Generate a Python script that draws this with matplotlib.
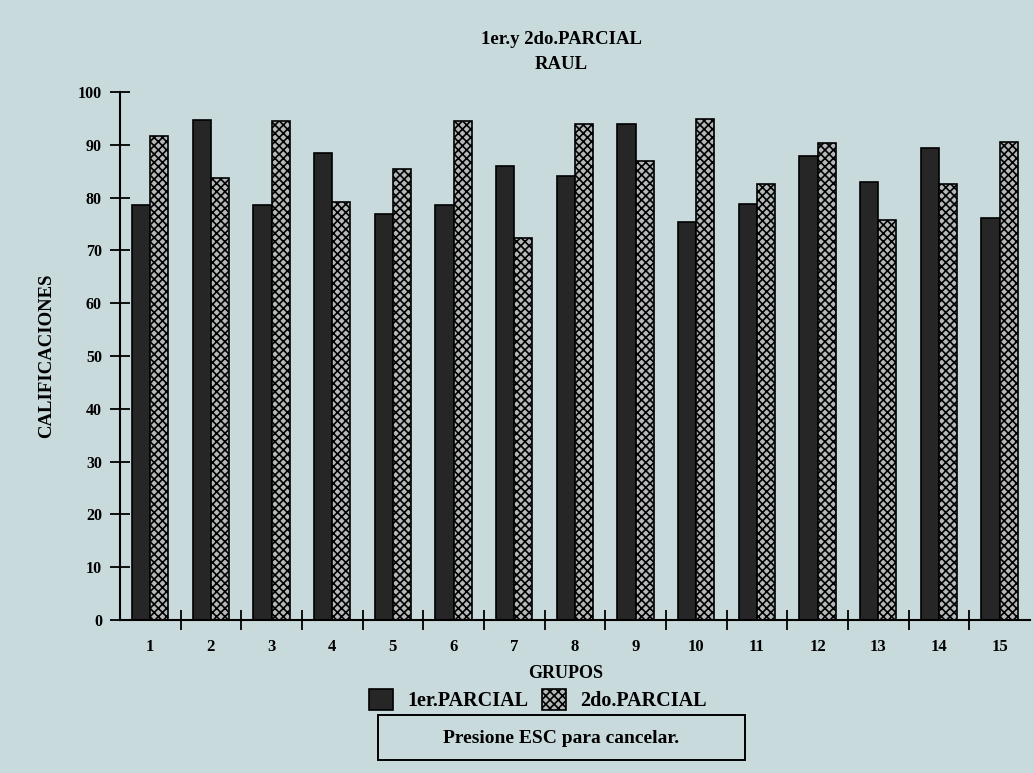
import matplotlib.pyplot as plt
from matplotlib.patches import Rectangle
import numpy as np

# datos
grupos = [str(i) for i in range(1, 16)]
parcial1 = [78.5, 94.6, 78.5, 88.4, 76.8, 78.5, 86.0, 84.1, 94.0, 75.3, 78.8, 87.9, 83.0, 89.3, 76.1]
parcial2 = [91.7, 83.7, 94.5, 79.2, 85.4, 94.5, 72.4, 94.0, 86.9, 94.8, 82.6, 90.4, 75.8, 82.6, 90.6]
yticks = list(range(0, 101, 10))

fondo = '#c9dadd'
plt.rcParams['font.family'] = 'Liberation Serif'
plt.rcParams['font.weight'] = 'bold'
plt.rcParams['axes.labelweight'] = 'bold'
plt.rcParams['hatch.linewidth'] = 1.2

fig = plt.figure(figsize=(10.34, 7.73), dpi=100, facecolor=fondo)
ax = fig.add_axes([0.116, 0.198, 0.88, 0.683], facecolor=fondo)

x = np.arange(1, 16)
w = 0.3
b1 = ax.bar(x - w / 2, parcial1, w, color='#262626', edgecolor='black', linewidth=1.2)
b2 = ax.bar(x + w / 2, parcial2, w, color='#b4b8b8', edgecolor='black', linewidth=1.2,
            hatch='xxxx')

ax.set_xlim(0.5, 15.5)
ax.set_ylim(0, 100)
ax.set_yticks(yticks)
ax.set_xticks(np.arange(1.5, 15.5, 1))
ax.set_xticklabels([])
ax.set_xticks(x, minor=True)
ax.set_xticklabels(grupos, minor=True)
ax.tick_params(axis='x', which='minor', length=0, pad=14, labelsize=12)
ax.tick_params(axis='x', which='major', direction='inout', length=14, width=1.3)
ax.tick_params(axis='y', direction='inout', length=14, width=1.3, labelsize=11.5, pad=6)
for s in ['top', 'right']:
    ax.spines[s].set_visible(False)
for s in ['left', 'bottom']:
    ax.spines[s].set_linewidth(1.5)

ax.set_ylabel('CALIFICACIONES', fontsize=13.5, labelpad=16)
ax.set_xlabel('GRUPOS', fontsize=13)
ax.xaxis.set_label_coords(0.49, -0.085)

fig.text(0.543, 0.943, '1er.y 2do.PARCIAL', ha='center', fontsize=13.5)
fig.text(0.543, 0.911, 'RAUL', ha='center', fontsize=13.5)

fig.legend([b1, b2], ['1er.PARCIAL', '2do.PARCIAL'], loc='center', ncol=2,
           bbox_to_anchor=(0.52, 0.094), frameon=False, fontsize=14.5,
           handlelength=1.2, handleheight=1.2, columnspacing=0.7, handletextpad=0.7)

fig.patches.append(Rectangle((378 / 1034, 13 / 773), 367 / 1034, 45 / 773,
                             transform=fig.transFigure, facecolor='none',
                             edgecolor='black', linewidth=1.4))
fig.text(0.543, 0.044, 'Presione ESC para cancelar.', ha='center', va='center',
         fontsize=14)

plt.savefig('out.png', dpi=100, facecolor=fondo)
